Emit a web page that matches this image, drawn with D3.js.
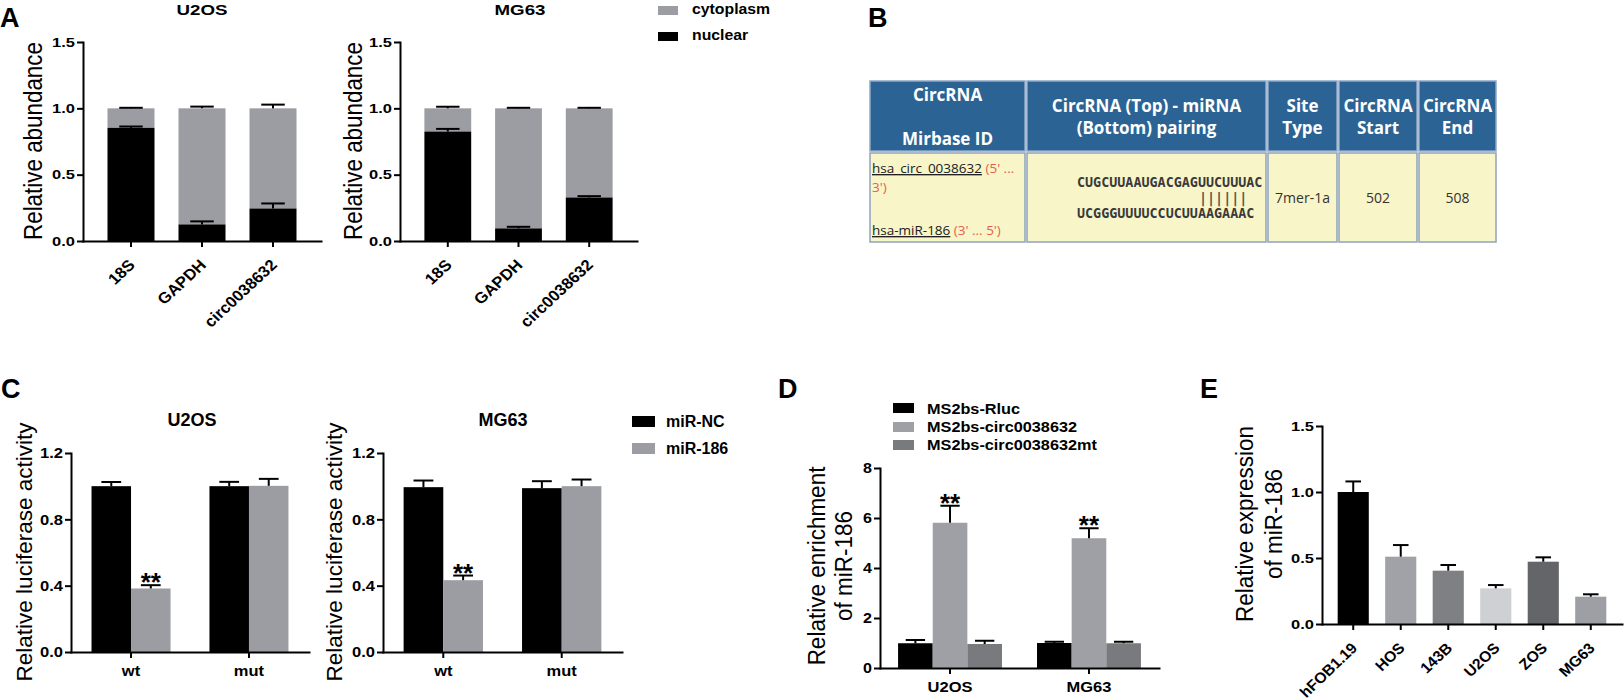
<!DOCTYPE html>
<html>
<head>
<meta charset="utf-8">
<script src="https://d3js.org/d3.v7.min.js"></script>
<style>
  body { margin: 0; background: #fff; }
</style>
</head>
<body>
<script>
// ---- data: panel A (fractions, nuclear at the bottom) ----
var aCats = ["18S", "GAPDH", "circ0038632"];
var aLegend = ["cytoplasm", "nuclear"];
var aTotal = [1, 1, 1];
var aU2osNuc = [0.853, 0.125, 0.245];
var aU2osNucErr = [0.01, 0.023, 0.038];
var aU2osCytErr = [0.004, 0.013, 0.028];
var aMg63Nuc = [0.825, 0.095, 0.328];
var aMg63NucErr = [0.02, 0.012, 0.01];
var aMg63CytErr = [0.012, 0.004, 0.004];
var aTicks = [0, 0.5, 1.0, 1.5];

// ---- panel B table ----
var tableHead = [["CircRNA", "", "Mirbase ID"], ["CircRNA (Top) - miRNA", "(Bottom) pairing"], ["Site", "Type"], ["CircRNA", "Start"], ["CircRNA", "End"]];
var circId = "hsa_circ_0038632", circDir = " (5' ...", circDir2 = "3')";
var mirId = "hsa-miR-186", mirDir = " (3' ... 5')";
var seqTop = "CUGCUUAAUGACGAGUUCUUUAC";
var seqPair = "||||||";
var seqBottom = "UCGGGUUUUCCUCUUAAGAAAC";
var siteType = "7mer-1a", circStart = "502", circEnd = "508";

// ---- panel C ----
var cGroups = ["wt", "mut"];
var cLegend = ["miR-NC", "miR-186"];
var cU2osNC = [1.0, 1.0], cU2osNCErr = [0.025, 0.026];
var cU2os186 = [0.383, 1.002], cU2os186Err = [0.02, 0.042];
var cMg63NC = [0.994, 0.988], cMg63NCErr = [0.04, 0.042];
var cMg63186 = [0.433, 1.0], cMg63186Err = [0.028, 0.04];
var cTicks = [0, 0.4, 0.8, 1.2];
var cStars = ["**", ""];

// ---- panel D ----
var dGroups = ["U2OS", "MG63"];
var dLegend = ["MS2bs-Rluc", "MS2bs-circ0038632", "MS2bs-circ0038632mt"];
var dRluc = [0.99, 1.0], dRlucErr = [0.13, 0.05];
var dCirc = [5.81, 5.19], dCircErr = [0.68, 0.4];
var dMt = [0.96, 0.99], dMtErr = [0.13, 0.06];
var dTicks = [0, 2, 4, 6, 8];
var dStars = ["", "**", ""];

// ---- panel E ----
var eCats = ["hFOB1.19", "HOS", "143B", "U2OS", "ZOS", "MG63"];
var eVals = [1.0, 0.51, 0.404, 0.27, 0.472, 0.207];
var eErr = [0.08, 0.088, 0.043, 0.025, 0.033, 0.018];
var eTicks = [0, 0.5, 1.0, 1.5];

// colours
var GRAY = "#9b9da3";
var dColors = ["#000", "#9ea0a6", "#797a7e"];
var eColors = ["#000", "#a0a2a8", "#7f8084", "#cfd0d3", "#646568", "#9d9fa5"];
var FONT = "'Liberation Sans', Arial, Helvetica, sans-serif";
var TFONT = "'Open Sans', 'Segoe UI', sans-serif";

var svg = d3.select("body").append("svg")
    .attr("width", 1624)
    .attr("height", 700);

// text helper; sx stretches the glyphs horizontally on screen
function txt(g, s, x, y, o) {
    o = o || {};
    var sx = o.sx || 1;
    var tr = "translate(" + x + "," + y + ")";
    if (o.rot == -90) tr += " rotate(-90) scale(1," + sx + ")";
    else tr += " scale(" + sx + ",1)";
    return g.append("text")
        .attr("transform", tr)
        .attr("font-family", o.family || FONT)
        .attr("font-size", o.size || 14)
        .attr("font-weight", o.weight || "bold")
        .attr("text-anchor", o.anchor || "middle")
        .attr("fill", o.fill || "#000")
        .text(s);
}

function err(g, cx, y1, y2, w) {
    g.append("line").attr("x1", cx).attr("x2", cx).attr("y1", y1).attr("y2", y2)
        .attr("stroke", "#000").attr("stroke-width", 2);
    g.append("line").attr("x1", cx - w / 2).attr("x2", cx + w / 2).attr("y1", y2).attr("y2", y2)
        .attr("stroke", "#000").attr("stroke-width", 2);
}

function axes(g, x, y, ticks, fmt, o) {
    var ya = g.append("g")
        .attr("transform", "translate(" + x.range()[0] + ",0)")
        .call(d3.axisLeft(y).tickValues(ticks).tickFormat(fmt).tickSize(6).tickSizeOuter(0));
    var xa = g.append("g")
        .attr("transform", "translate(0," + y.range()[0] + ")")
        .call(d3.axisBottom(x).tickSize(6).tickSizeOuter(0));
    [ya, xa].forEach(function(a) {
        a.select(".domain").attr("stroke", "#000").attr("stroke-width", 2).attr("stroke-linecap", "square");
        a.selectAll(".tick line").attr("stroke", "#000").attr("stroke-width", 2);
        a.selectAll(".tick text").attr("font-family", FONT).attr("font-weight", "bold").attr("fill", "#000");
    });
    ya.selectAll(".tick text")
        .attr("font-size", o.ty)
        .attr("x", -8 / o.tsx)
        .attr("transform", "scale(" + o.tsx + ",1)");
    return xa;
}

function rotLabels(xa, size, sx) {
    xa.selectAll(".tick text")
        .attr("font-size", size)
        .attr("text-anchor", "end")
        .attr("x", 0).attr("y", 0).attr("dy", 0)
        .attr("transform", "translate(5,25) scale(" + sx + ",1) rotate(-45)");
}

// ================= A =================
function panelA(x0, x1, title, titleX, labX, nuc, nucErr, cytErr) {
    var g = svg.append("g");
    var y = d3.scaleLinear().domain([0, 1.5]).range([241, 42]);
    var x = d3.scaleBand().domain(aCats).range([x0, x1]).paddingInner(0.338).paddingOuter(0.345);
    var bw = x.bandwidth();

    g.selectAll(".cyt").data(aCats).join("rect").attr("class", "cyt")
        .attr("x", function(d) { return x(d); })
        .attr("width", bw)
        .attr("y", function(d, i) { return y(aTotal[i]); })
        .attr("height", function(d, i) { return y(nuc[i]) - y(aTotal[i]); })
        .attr("fill", GRAY);
    g.selectAll(".nuc").data(aCats).join("rect").attr("class", "nuc")
        .attr("x", function(d) { return x(d); })
        .attr("width", bw)
        .attr("y", function(d, i) { return y(nuc[i]); })
        .attr("height", function(d, i) { return y(0) - y(nuc[i]); })
        .attr("fill", "#000");
    aCats.forEach(function(d, i) {
        var cx = x(d) + bw / 2;
        err(g, cx, y(aTotal[i]), y(aTotal[i] + cytErr[i]), bw / 2);
        err(g, cx, y(nuc[i]), y(nuc[i] + nucErr[i]), bw / 2);
    });

    var xa = axes(g, x, y, aTicks, d3.format(".1f"), {ty: 13.5, tsx: 1.22});
    rotLabels(xa, 15.5, 1.08);
    txt(g, title, titleX, 15, {size: 15, sx: 1.25});
    txt(g, "Relative abundance", labX, 141, {size: 22.4, weight: "normal", rot: -90, sx: 1.16});
}
panelA(83, 321, "U2OS", 202, 42, aU2osNuc, aU2osNucErr, aU2osCytErr);
panelA(400, 637, "MG63", 520, 362, aMg63Nuc, aMg63NucErr, aMg63CytErr);

var legA = svg.append("g");
[GRAY, "#000"].forEach(function(c, i) {
    legA.append("rect").attr("x", 658).attr("y", [6, 32][i]).attr("width", 20).attr("height", 9).attr("fill", c);
    txt(legA, aLegend[i], 692, [13.5, 40][i], {size: 14, sx: 1.13, anchor: "start"});
});

// ================= B =================
var tb = svg.append("g");
var colEdges = [869, 1026, 1267, 1338, 1418, 1497];
tableHead.forEach(function(lines, i) {
    var c0 = colEdges[i], c1 = colEdges[i + 1];
    tb.append("rect").attr("x", c0 + 1).attr("y", 81).attr("width", c1 - c0 - 2).attr("height", 70)
        .attr("fill", "#2b6494").attr("stroke", "#8ea8c6").attr("stroke-width", 1.5);
    tb.append("rect").attr("x", c0 + 1).attr("y", 153).attr("width", c1 - c0 - 2).attr("height", 89)
        .attr("fill", "#f8f5c8").attr("stroke", "#8fa2bd").attr("stroke-width", 1.5);
    lines.forEach(function(s, k) {
        txt(tb, s, (c0 + c1) / 2, 122.5 + (k - (lines.length - 1) / 2) * 22,
            {size: 17, family: TFONT, fill: "#fff"});
    });
});
var id1 = tb.append("text").attr("x", 872).attr("y", 173)
    .attr("font-family", TFONT).attr("font-size", 13.5).attr("fill", "#222");
id1.append("tspan").attr("text-decoration", "underline").text(circId);
id1.append("tspan").attr("fill", "#e5604f").text(circDir);
txt(tb, circDir2, 872, 192, {size: 13.5, family: TFONT, weight: "normal", anchor: "start", fill: "#e5604f"});
var id2 = tb.append("text").attr("x", 872).attr("y", 235)
    .attr("font-family", TFONT).attr("font-size", 13.5).attr("fill", "#222");
id2.append("tspan").attr("text-decoration", "underline").text(mirId);
id2.append("tspan").attr("fill", "#e5604f").text(mirDir);

var MONO = "'DejaVu Sans Mono', monospace";
txt(tb, seqTop, 1077, 187, {size: 13.4, family: MONO, anchor: "start", fill: "#3a3a3a"});
txt(tb, seqPair, 1199, 203, {size: 13.4, family: MONO, anchor: "start", fill: "#555"});
txt(tb, seqBottom, 1077, 218, {size: 13.4, family: MONO, anchor: "start", fill: "#3a3a3a"});
[siteType, circStart, circEnd].forEach(function(s, i) {
    txt(tb, s, (colEdges[i + 2] + colEdges[i + 3]) / 2, 203, {size: 14, family: TFONT, weight: "normal", fill: "#333"});
});

// ================= C =================
function panelC(x0, x1, title, titleX, labX, series, errs) {
    var g = svg.append("g");
    var y = d3.scaleLinear().domain([0, 1.2]).range([652, 453]);
    var x = d3.scaleBand().domain(cGroups).range([x0, x1]).paddingInner(0.33).paddingOuter(0.174);
    var xs = d3.scaleBand().domain(cLegend).range([0, x.bandwidth()]);
    var bw = xs.bandwidth();
    series.forEach(function(vals, s) {
        g.selectAll(".s" + s).data(cGroups).join("rect").attr("class", "s" + s)
            .attr("x", function(d) { return x(d) + xs(cLegend[s]); })
            .attr("width", bw)
            .attr("y", function(d, i) { return y(vals[i]); })
            .attr("height", function(d, i) { return y(0) - y(vals[i]); })
            .attr("fill", s == 0 ? "#000" : GRAY);
        cGroups.forEach(function(d, i) {
            var cx = x(d) + xs(cLegend[s]) + bw / 2;
            err(g, cx, y(vals[i]), y(vals[i] + errs[s][i]), bw / 2);
            if (s == 1 && cStars[i]) txt(g, cStars[i], cx, y(vals[i] + errs[s][i]) + 6, {size: 26});
        });
    });
    var xa = axes(g, x, y, cTicks, d3.format(".1f"), {ty: 15.5, tsx: 1.07});
    xa.selectAll(".tick text").attr("font-size", 15).attr("y", 24).attr("dy", 0).attr("transform", "scale(1.1,1)");
    txt(g, title, titleX, 426, {size: 18});
    txt(g, "Relative luciferase activity", labX, 552, {size: 22.5, weight: "normal", rot: -90});
}
panelC(71, 309, "U2OS", 192, 31.5, [cU2osNC, cU2os186], [cU2osNCErr, cU2os186Err]);
panelC(383, 622, "MG63", 503, 341.5, [cMg63NC, cMg63186], [cMg63NCErr, cMg63186Err]);

var legC = svg.append("g");
["#000", GRAY].forEach(function(c, i) {
    legC.append("rect").attr("x", 632).attr("y", [416, 443][i]).attr("width", 23).attr("height", 11).attr("fill", c);
    txt(legC, cLegend[i], 666, [427, 454][i], {size: 16, anchor: "start"});
});

// ================= D =================
(function() {
    var g = svg.append("g");
    var y = d3.scaleLinear().domain([0, 8]).range([668, 468]);
    var x = d3.scaleBand().domain(dGroups).range([880, 1159]).paddingInner(0.252).paddingOuter(0.13);
    var xs = d3.scaleBand().domain(dLegend).range([0, x.bandwidth()]);
    var bw = xs.bandwidth();
    var series = [dRluc, dCirc, dMt], errs = [dRlucErr, dCircErr, dMtErr];
    series.forEach(function(vals, s) {
        g.selectAll(".s" + s).data(dGroups).join("rect").attr("class", "s" + s)
            .attr("x", function(d) { return x(d) + xs(dLegend[s]); })
            .attr("width", bw)
            .attr("y", function(d, i) { return y(vals[i]); })
            .attr("height", function(d, i) { return y(0) - y(vals[i]); })
            .attr("fill", dColors[s]);
        dGroups.forEach(function(d, i) {
            var cx = x(d) + xs(dLegend[s]) + bw / 2;
            err(g, cx, y(vals[i]), y(vals[i] + errs[s][i]), bw / 2 + 2);
            if (dStars[s]) txt(g, dStars[s], cx, y(vals[i] + errs[s][i]) + 6, {size: 26});
        });
    });
    var xa = axes(g, x, y, dTicks, d3.format("d"), {ty: 14, tsx: 1.15});
    xa.selectAll(".tick text").attr("font-size", 15).attr("y", 24).attr("dy", 0).attr("transform", "scale(1.1,1)");
    txt(g, "Relative enrichment", 825, 566, {size: 22.5, weight: "normal", rot: -90, sx: 1.1});
    txt(g, "of miR-186", 852, 566, {size: 22.5, weight: "normal", rot: -90, sx: 1.1});

    dLegend.forEach(function(s, i) {
        g.append("rect").attr("x", 893).attr("y", [403, 422, 440][i]).attr("width", 21).attr("height", 10).attr("fill", dColors[i]);
        txt(g, s, 927, [414, 432, 450][i], {size: 15.5, sx: 1.05, anchor: "start"});
    });
})();

// ================= E =================
(function() {
    var g = svg.append("g");
    var y = d3.scaleLinear().domain([0, 1.5]).range([624, 426]);
    var x = d3.scaleBand().domain(eCats).range([1322, 1622]).paddingInner(0.345).paddingOuter(0.33);
    var bw = x.bandwidth();
    g.selectAll(".bar").data(eCats).join("rect").attr("class", "bar")
        .attr("x", function(d) { return x(d); })
        .attr("width", bw)
        .attr("y", function(d, i) { return y(eVals[i]); })
        .attr("height", function(d, i) { return y(0) - y(eVals[i]); })
        .attr("fill", function(d, i) { return eColors[i]; });
    eCats.forEach(function(d, i) {
        err(g, x(d) + bw / 2, y(eVals[i]), y(eVals[i] + eErr[i]), bw / 2);
    });
    var xa = axes(g, x, y, eTicks, d3.format(".1f"), {ty: 13.5, tsx: 1.22});
    rotLabels(xa, 15, 1.05);
    txt(g, "Relative expression", 1253, 524, {size: 22.5, weight: "normal", rot: -90, sx: 1.05});
    txt(g, "of miR-186", 1282, 524, {size: 22.5, weight: "normal", rot: -90, sx: 1.05});
})();

// panel letters
[["A", 0, 27], ["B", 868, 27], ["C", 1, 398], ["D", 778, 398], ["E", 1200, 398]].forEach(function(p) {
    txt(svg, p[0], p[1], p[2], {size: 27, anchor: "start"});
});
</script>
</body>
</html>
